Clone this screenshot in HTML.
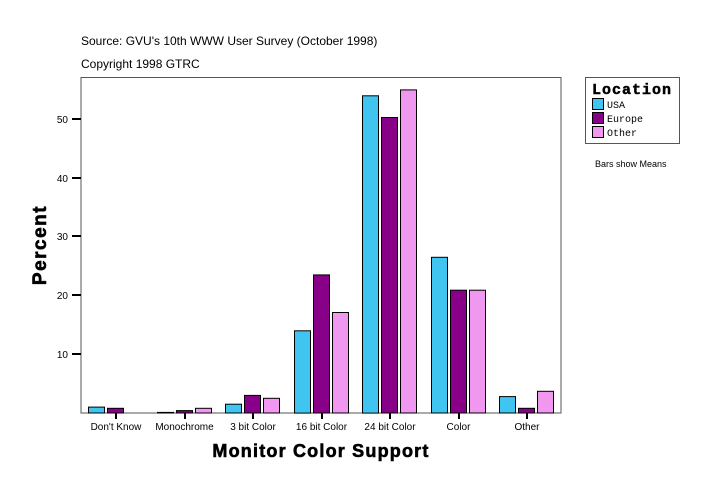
<!DOCTYPE html>
<html><head><style>
body{margin:0;background:#fff;width:724px;height:496px;overflow:hidden}
text{font-family:"Liberation Sans",sans-serif}
text.m{font-family:"Liberation Mono",monospace}
</style></head><body>
<svg width="724" height="496" xmlns="http://www.w3.org/2000/svg">
<text x="81" y="45" font-size="12">Source: GVU's 10th WWW User Survey (October 1998)</text>
<text x="81" y="68" font-size="12">Copyright 1998 GTRC</text>
<rect x="81" y="77.5" width="480" height="335.5" fill="none" stroke="#555" stroke-width="1"/>
<g stroke="#000" stroke-width="2">
<line x1="72" y1="119" x2="81" y2="119"/><line x1="72" y1="178" x2="81" y2="178"/>
<line x1="72" y1="236" x2="81" y2="236"/><line x1="72" y1="295" x2="81" y2="295"/>
<line x1="72" y1="354" x2="81" y2="354"/>
</g>
<g font-size="10" text-anchor="end">
<text x="68" y="123">50</text><text x="68" y="182">40</text><text x="68" y="240">30</text>
<text x="68" y="299">20</text><text x="68" y="358">10</text>
</g>
<text transform="translate(46,245) rotate(-90)" font-size="19" font-weight="bold" text-anchor="middle" letter-spacing="1.5" stroke="#000" stroke-width="0.6">Percent</text>
<g id="bars" stroke="#000" stroke-width="1"></g>
<g stroke="#000" stroke-width="2" id="ticks"></g>
<g font-size="10" text-anchor="middle" id="labs"></g>
<text x="321" y="457" font-size="18" font-weight="bold" text-anchor="middle" letter-spacing="1.2" stroke="#000" stroke-width="0.6">Monitor Color Support</text>
<rect x="585.5" y="77.5" width="94" height="66" fill="#fff" stroke="#555"/>
<text class="m" x="592" y="94" font-size="15" font-weight="bold" letter-spacing="1" stroke="#000" stroke-width="0.5">Location</text>
<rect x="592.5" y="98.5" width="11" height="11" fill="#40c4f0" stroke="#000"/>
<rect x="592.5" y="112.5" width="11" height="11" fill="#880088" stroke="#000"/>
<rect x="592.5" y="126.5" width="11" height="11" fill="#f098f0" stroke="#000"/>
<text class="m" x="607" y="108" font-size="10">USA</text>
<text class="m" x="607" y="122" font-size="10">Europe</text>
<text class="m" x="607" y="136" font-size="10">Other</text>
<text x="595" y="167" font-size="9">Bars show Means</text>
</svg>
<script>
const u=[1,0.1,1.5,14,54,26.5,2.8],e=[0.8,0.4,3,23.5,50.3,20.9,0.8],o=[0,0.8,2.5,17.1,55,20.9,3.7];
const names=["Don't Know","Monochrome","3 bit Color","16 bit Color","24 bit Color","Color","Other"];
const cols=["#40c4f0","#880088","#f098f0"];
let b="",t="",l="";
for(let i=0;i<7;i++){const c=116+i*68.5;
[u,e,o].forEach((s,k)=>{const v=s[i];if(v<=0)return;const h=v*5.875;const x=Math.round(c-28+k*19)+.5;
b+=`<rect x="${x}" y="${(413-h).toFixed(1)}" width="16" height="${h.toFixed(1)}" fill="${cols[k]}"/>`;});
t+=`<line x1="${Math.round(c)}" y1="413" x2="${Math.round(c)}" y2="419"/>`;
l+=`<text x="${c}" y="430">${names[i].replace("'","&#39;")}</text>`;}
document.getElementById("bars").innerHTML=b;document.getElementById("ticks").innerHTML=t;document.getElementById("labs").innerHTML=l;
</script>
</body></html>
